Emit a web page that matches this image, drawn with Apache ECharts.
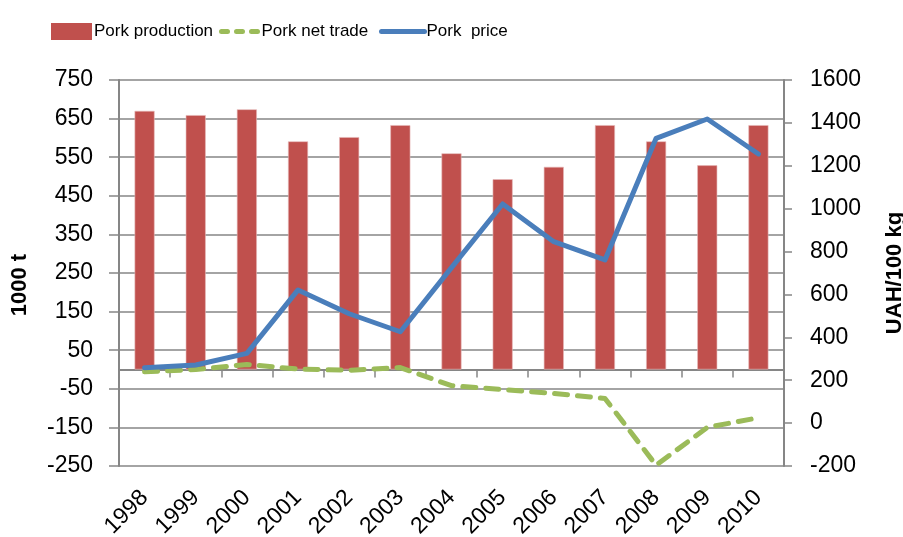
<!DOCTYPE html>
<html>
<head>
<meta charset="utf-8">
<script src="https://cdn.jsdelivr.net/npm/echarts@6/dist/echarts.min.js"></script>
<style>
html,body{margin:0;padding:0;background:#fff;}
#chart{width:903px;height:537px;}
</style>
</head>
<body>
<div id="chart"></div>
<script>
// ---- data ----
const years = ['1998','1999','2000','2001','2002','2003','2004','2005','2006','2007','2008','2009','2010'];
const porkProduction = [670, 659, 674, 591, 602, 633, 560, 493, 525, 633, 591, 529, 633];
const porkNetTrade = [-6, 0, 13, 1, -2, 5, -42, -52, -62, -75, -248, -150, -125];
const porkPrice = [258, 271, 325, 621, 510, 426, 725, 1022, 846, 761, 1328, 1418, 1255];
const leftTicks = [-250, -150, -50, 50, 150, 250, 350, 450, 550, 650, 750];

const numFont = '"Liberation Sans", Arial, sans-serif';
const legendFont = '"Liberation Sans Narrow", "Liberation Sans", Arial, sans-serif';
const gray = '#868686';
const red = '#C0504D', green = '#9BBB59', blue = '#4A7EBB';

const chart = echarts.init(document.getElementById('chart'), null, {renderer: 'canvas'});

function legendAt(name, left, extra) {
  return Object.assign({
    data: [name], left: left, top: 18, itemWidth: 41, itemHeight: 17, itemGap: 0,
    textStyle: {fontFamily: legendFont, fontSize: 17, color: '#000', padding: [1, 0, 0, -3]},
    selectedMode: false
  }, extra || {});
}

chart.setOption({
  animation: false,
  backgroundColor: '#fff',
  legend: [
    legendAt('Pork production', 46, {icon: 'rect', itemStyle: {borderWidth: 0}}),
    legendAt('Pork net trade', 214, {itemWidth: 38, itemStyle: {opacity: 0},
      lineStyle: {color: green, width: 5, type: [6, 9], cap: 'round', opacity: 1}}),
    legendAt('Pork  price', 374, {itemWidth: 43, itemStyle: {opacity: 0},
      lineStyle: {color: blue, width: 5, type: 'solid', cap: 'round', opacity: 1}})
  ],
  grid: {left: 119, right: 119, top: 80, bottom: 71, containLabel: false, outerBoundsMode: 'none'},
  xAxis: [
    {
      type: 'category', data: years, position: 'bottom',
      axisLine: {show: true, onZero: true, onZeroAxisIndex: 0, lineStyle: {color: gray, width: 2}},
      axisTick: {show: true, length: 8, lineStyle: {color: gray, width: 1.5}},
      axisLabel: {show: false},
      splitLine: {show: false}
    },
    {
      type: 'category', data: years, position: 'bottom',
      axisLine: {show: false, onZero: false},
      axisTick: {show: false},
      axisLabel: {show: true, rotate: 45, margin: 28, fontFamily: numFont, fontSize: 23, color: '#000', interval: 0},
      splitLine: {show: false}
    }
  ],
  yAxis: [
    {
      type: 'value', position: 'left', min: -250, max: 750, interval: 50,
      name: '1000 t', nameLocation: 'middle', nameRotate: 90, nameGap: 88,
      nameTextStyle: {fontFamily: numFont, fontSize: 22, fontWeight: 'bold', color: '#000', padding: [0, 0, 0, -24]},
      axisLine: {show: true, lineStyle: {color: gray, width: 2}},
      axisTick: {show: false},
      splitLine: {show: false},
      axisLabel: {
        margin: 26, fontFamily: numFont, fontSize: 23, color: '#000',
        formatter: function (v) { return leftTicks.indexOf(v) >= 0 ? String(v) : ''; }
      }
    },
    {
      type: 'value', position: 'right', min: -200, max: 1600, interval: 200,
      name: 'UAH/100 kg', nameLocation: 'middle', nameRotate: 90, nameGap: 100,
      nameTextStyle: {fontFamily: numFont, fontSize: 22, fontWeight: 'bold', color: '#000'},
      axisLine: {show: true, lineStyle: {color: gray, width: 2}},
      axisTick: {show: true, length: 8, lineStyle: {color: gray, width: 1.5}},
      splitLine: {show: false},
      axisLabel: {margin: 26, fontFamily: numFont, fontSize: 23, color: '#000',
        formatter: function (v) { return String(v); }}
    },
    {
      // gridline helper: same pixel span as left axis (-250..750), lines every 100 from -250
      type: 'value', position: 'left', min: 0, max: 1000, interval: 100,
      axisLine: {show: false},
      axisTick: {show: true, length: 10, lineStyle: {color: gray, width: 1.5}},
      axisLabel: {show: false},
      splitLine: {show: true, lineStyle: {color: gray, width: 1.5}}
    }
  ],
  series: [
    {
      name: 'Pork production', type: 'bar', data: porkProduction,
      xAxisIndex: 0, yAxisIndex: 0, barWidth: 20,
      itemStyle: {color: red, borderColor: '#E6B9B8', borderWidth: 0.6},
      z: 2
    },
    {
      name: 'Pork net trade', type: 'line', data: porkNetTrade,
      xAxisIndex: 0, yAxisIndex: 0, symbol: 'none', smooth: false,
      lineStyle: {color: green, width: 5, type: [13, 10], cap: 'round', join: 'round'},
      itemStyle: {color: green},
      z: 3
    },
    {
      name: 'Pork  price', type: 'line', data: porkPrice,
      xAxisIndex: 0, yAxisIndex: 1, symbol: 'none', smooth: false,
      lineStyle: {color: blue, width: 5, cap: 'round', join: 'round'},
      itemStyle: {color: blue},
      z: 4
    }
  ]
});
</script>
</body>
</html>
